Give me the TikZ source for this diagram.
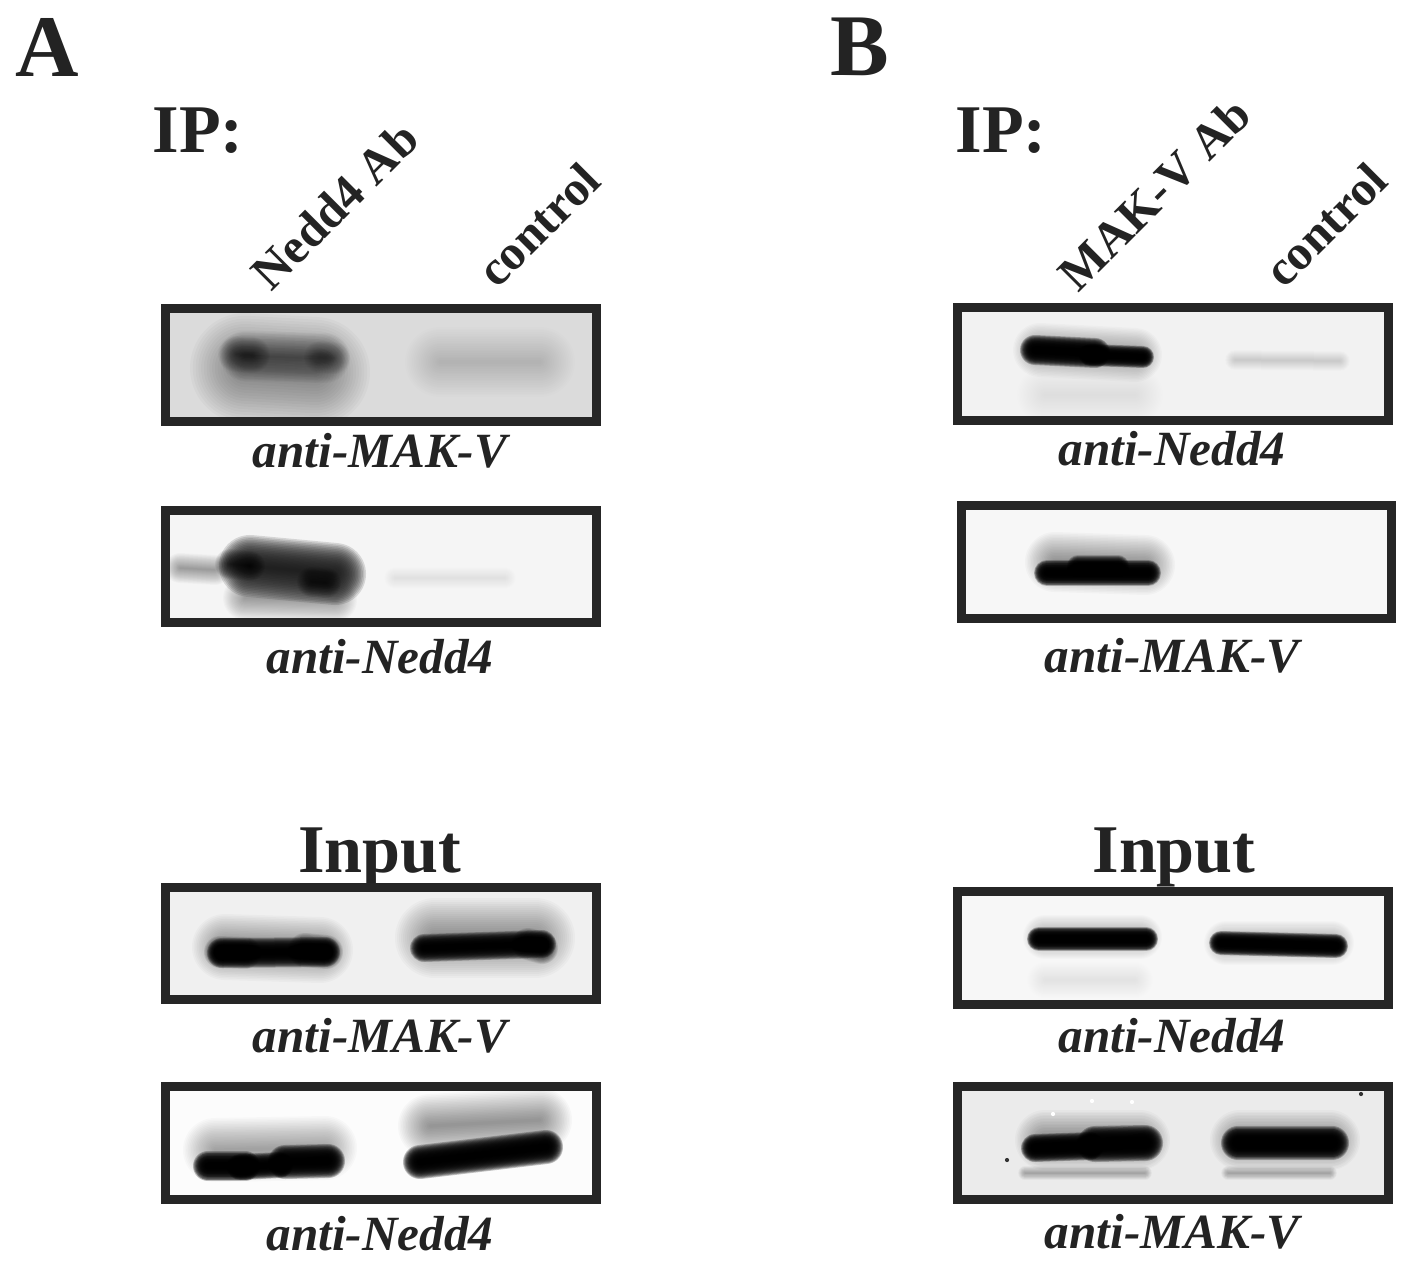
\documentclass[tikz,border=0pt]{standalone}
\usepackage{tikz}
\usepackage{xcolor}
\usepackage{fontspec}
\setmainfont{Liberation Serif}

\definecolor{ink}{HTML}{232323}
\definecolor{frame}{HTML}{262626}

\newcommand{\blotband}[7][black]{%
  \pgfmathsetmacro\bandop{1-sqrt(1-#7)}
  \foreach \k in {1,...,20}
    \draw[draw=#1, line cap=round, opacity=\bandop, line width=#6*\k*0.014225pt] (#2,#3) -- (#4,#5);
}
\newcommand{\gel}[6]{%
  \fill[#5] (#1,#2) rectangle (#3,#4);
  \begin{scope}
    \clip (#1,#2) rectangle (#3,#4);
    #6
  \end{scope}
  \draw[gelframe] (#1,#2) rectangle (#3,#4);
}

\tikzset{
  gelframe/.style={draw=frame, line width=2.56pt},
  paneltag/.style={anchor=base west, inner sep=0pt, text=ink, font=\bfseries\fontsize{25pt}{28pt}\selectfont},
  headtag/.style={anchor=base, inner sep=0pt, text=ink, font=\bfseries\fontsize{19.4pt}{22pt}\selectfont},
  lanetag/.style={anchor=base west, rotate=45, inner sep=0pt, text=ink, font=\bfseries\fontsize{14pt}{16pt}\selectfont},
  probetag/.style={anchor=base, inner sep=0pt, text=ink, font=\bfseries\itshape\fontsize{14pt}{16pt}\selectfont},
}

\begin{document}
\begin{tikzpicture}[x=0.01cm, y=-0.01cm]
\useasboundingbox (0,0) rectangle (1413,1267);

\node[paneltag] (tagA) at (15,77) {A};
\node[paneltag] (tagB) at (830,76) {B};
\node[headtag, anchor=base west] (ipA) at (152,153) {IP:};
\node[headtag, anchor=base west] (ipB) at (955,153) {IP:};
\node[lanetag] (laneA1) at (271,293) {Nedd4 Ab};
\node[lanetag] (laneA2) at (497,290) {control};
\node[lanetag] (laneB1) at (1078,294) {MAK-V Ab};
\node[lanetag] (laneB2) at (1284,290) {control};
\node[headtag] (inputA) at (380,872) {Input};
\node[headtag] (inputB) at (1174,872) {Input};

\gel{165.5}{308.5}{596.5}{421.5}{black!14}{
  \blotband{245}{368}{315}{372}{110}{0.045}
  \blotband{245}{356}{325}{358}{50}{0.06}
  \blotband{236}{354}{252}{355}{36}{0.06}
  \blotband{320}{357}{334}{358}{32}{0.04}
  \blotband{440}{362}{540}{362}{70}{0.012}
}
\gel{165.5}{510.5}{596.5}{622.5}{black!4}{
  \blotband{180}{568}{215}{570}{30}{0.04}
  \blotband{245}{598}{335}{600}{44}{0.035}
  \blotband[black!90]{250}{566}{335}{574}{62}{0.26}
  \blotband{230}{564}{250}{566}{30}{0.1}
  \blotband{312}{582}{326}{583}{30}{0.1}
  \blotband{395}{578}{505}{578}{22}{0.008}
}
\gel{165.5}{887.5}{596.5}{999.5}{black!6}{
  \blotband{225}{947}{320}{950}{66}{0.05}
  \blotband{222}{953}{325}{952}{30}{0.38}
  \blotband{220}{952}{245}{953}{32}{0.15}
  \blotband{305}{950}{326}{952}{34}{0.15}
  \blotband{435}{938}{535}{938}{80}{0.05}
  \blotband{424}{948}{542}{944}{28}{0.38}
  \blotband{528}{944}{542}{948}{32}{0.15}
}
\gel{165.5}{1086.5}{596.5}{1199.5}{black!1}{
  \blotband{215}{1150}{325}{1148}{64}{0.04}
  \blotband{208}{1166}{245}{1166}{30}{0.42}
  \blotband{240}{1167}{280}{1165}{26}{0.42}
  \blotband{285}{1162}{328}{1161}{34}{0.42}
  \blotband{430}{1126}{540}{1120}{64}{0.05}
  \blotband{420}{1162}{546}{1147}{34}{0.42}
}
\gel{957.5}{307.5}{1388.5}{420.5}{black!5}{
  \blotband{1040}{350}{1135}{355}{54}{0.04}
  \blotband{1045}{395}{1135}{395}{56}{0.008}
  \blotband{1035}{350}{1095}{353}{30}{0.42}
  \blotband{1090}{355}{1143}{357}{22}{0.42}
  \blotband{1235}{360}{1340}{361}{20}{0.012}
}
\gel{961.5}{505.5}{1391.5}{618.5}{black!3}{
  \blotband{1055}{562}{1145}{565}{60}{0.05}
  \blotband{1047}{573}{1148}{573}{26}{0.42}
  \blotband{1078}{566}{1118}{566}{22}{0.3}
}
\gel{957.5}{891.5}{1388.5}{1004.5}{black!3}{
  \blotband{1045}{937}{1140}{937}{44}{0.03}
  \blotband{1039}{939}{1146}{939}{24}{0.45}
  \blotband{1226}{943}{1332}{943}{44}{0.03}
  \blotband{1221}{943}{1336}{946}{24}{0.45}
  \blotband{1045}{980}{1135}{980}{36}{0.006}
}
\gel{957.5}{1086.5}{1388.5}{1199.5}{black!8}{
  \blotband{1045}{1140}{1140}{1140}{60}{0.05}
  \blotband{1035}{1148}{1090}{1146}{28}{0.45}
  \blotband{1095}{1144}{1145}{1143}{36}{0.45}
  \blotband{1025}{1173}{1145}{1173}{14}{0.03}
  \blotband{1240}{1140}{1330}{1140}{60}{0.05}
  \blotband{1238}{1143}{1332}{1143}{34}{0.45}
  \blotband{1228}{1173}{1330}{1173}{14}{0.03}
  \fill[black!80] (1007,1160) circle (0.6pt) (1361,1094) circle (0.6pt);
  \fill[white] (1092,1101) circle (0.6pt) (1132,1102) circle (0.6pt) (1053,1114) circle (0.6pt);
}

\node[probetag] (probeA1) at (380,467) {anti-MAK-V};
\node[probetag] (probeA2) at (380,673) {anti-Nedd4};
\node[probetag] (probeA3) at (380,1052) {anti-MAK-V};
\node[probetag] (probeA4) at (380,1250) {anti-Nedd4};
\node[probetag] (probeB1) at (1172,465) {anti-Nedd4};
\node[probetag] (probeB2) at (1172,672) {anti-MAK-V};
\node[probetag] (probeB3) at (1172,1052) {anti-Nedd4};
\node[probetag] (probeB4) at (1172,1248) {anti-MAK-V};
\end{tikzpicture}
\end{document}
